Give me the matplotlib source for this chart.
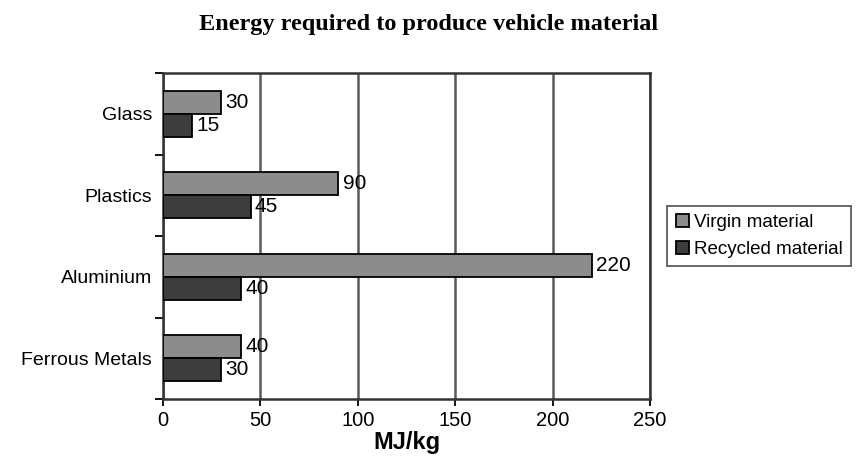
import numpy as np
import matplotlib.pyplot as plt

plt.rcParams['font.family'] = ['Liberation Sans', 'DejaVu Sans']

# Data
categories = ['Glass', 'Plastics', 'Aluminium', 'Ferrous Metals']
virgin = [30, 90, 220, 40]
recycled = [15, 45, 40, 30]
xticks = [0, 50, 100, 150, 200, 250]

fig = plt.figure(figsize=(8.58, 4.67), dpi=100)
ax = fig.add_axes([0.190, 0.1456, 0.5676, 0.698])

y = np.arange(len(categories))
h = 0.28
b1 = ax.barh(y - h / 2, virgin, height=h, color='#8c8c8c', edgecolor='black',
             linewidth=1.3, label='Virgin material', zorder=3)
b2 = ax.barh(y + h / 2, recycled, height=h, color='#3d3d3d', edgecolor='black',
             linewidth=1.3, label='Recycled material', zorder=3)
ax.bar_label(b1, padding=3, fontsize=15)
ax.bar_label(b2, padding=3, fontsize=15)

ax.set_ylim(3.5, -0.5)
ax.set_xlim(0, 250)
ax.set_yticks(y)
ax.set_yticklabels(categories, fontsize=14)
ax.set_yticks(np.arange(-0.5, 4, 1), minor=True)
ax.tick_params(axis='y', which='major', length=0, pad=8)
ax.tick_params(axis='y', which='minor', length=6, direction='out', width=1.3)
ax.set_xticks(xticks)
ax.set_xticklabels([str(t) for t in xticks], fontsize=14.5)
ax.tick_params(axis='x', length=5, width=1.3)
ax.grid(axis='x', color='#5a5a5a', linewidth=1.8, zorder=0)
for s in ax.spines.values():
    s.set_linewidth(1.8)
    s.set_color('#333333')

ax.set_xlabel('MJ/kg', fontsize=17, fontweight='bold', labelpad=1)
fig.text(0.5, 0.947, 'Energy required to produce vehicle material', ha='center', va='center',
         fontsize=17.5, fontweight='bold', family='Liberation Serif')

leg = ax.legend(loc='center left', bbox_to_anchor=(1.035, 0.5), fontsize=13.5, fancybox=False,
                edgecolor='#333333', handlelength=0.7, handleheight=0.7, handletextpad=0.3,
                borderpad=0.45, labelspacing=0.5, borderaxespad=0)
leg.get_frame().set_linewidth(1.3)

fig.savefig('out.png', dpi=100)
